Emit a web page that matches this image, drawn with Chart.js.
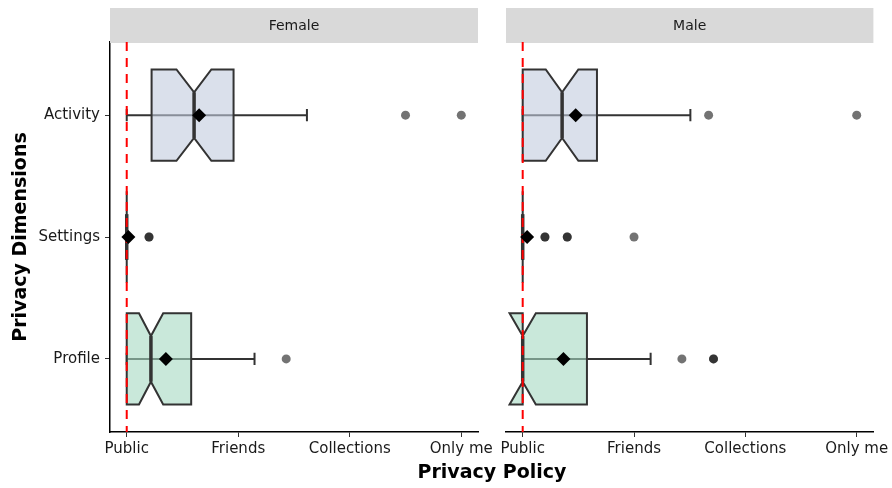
<!DOCTYPE html>
<html>
<head>
<meta charset="utf-8">
<script src="https://cdn.jsdelivr.net/npm/chart.js@4.4.1/dist/chart.umd.min.js"></script>
<style>
  body { margin: 0; background: #fff; font-family: "DejaVu Sans", sans-serif; }
  #wrap { position: relative; width: 892px; height: 488px; overflow: hidden; }
  #wrap canvas { position: absolute; left: 0; top: 0; }
  #xTitle {
    position: absolute; left: 0; width: 984px; top: 460px;
    text-align: center; font-weight: bold; font-size: 19px; color: #000;
  }
</style>
</head>
<body>
<div id="wrap">
  <canvas id="femaleChart" width="892" height="488"></canvas>
  <canvas id="maleChart" width="892" height="488"></canvas>
  <div id="xTitle">Privacy Policy</div>
</div>
<script>
// Categories (bottom to top) and policy levels (1..4)
const dimensions = ['Profile', 'Settings', 'Activity'];
const policyLabels = ['Public', 'Friends', 'Collections', 'Only me'];
const panelNames = ['Female', 'Male'];

// Box stats per dimension, in policy units
const femaleWhiskerLow = [1, 1, 1];
const femaleQ1 = [1, 1, 1.223];
const femaleNotchLow = [1.11, 1, 1.446];
const femaleMedian = [1.217, 1, 1.604];
const femaleNotchHigh = [1.327, 1, 1.759];
const femaleQ3 = [1.578, 1, 1.958];
const femaleWhiskerHigh = [2.146, 1, 2.616];
const femaleMean = [1.351, 1.015, 1.649];
const femaleOutliers = [[2.43], [1.2, 1.2], [3.5, 4.0]];

const maleWhiskerLow = [1, 1, 1];
const maleQ1 = [1, 1, 1];
const maleNotchLow = [0.882, 1, 1.207];
const maleMedian = [1, 1, 1.354];
const maleNotchHigh = [1.118, 1, 1.5];
const maleQ3 = [1.577, 1, 1.667];
const maleWhiskerHigh = [2.149, 1, 2.506];
const maleMean = [1.366, 1.04, 1.476];
const maleOutliers = [[2.43, 2.714, 2.714], [1.2, 1.2, 1.4, 1.4, 2.0], [2.67, 4.0]];

const boxFills = ['rgba(165,217,193,0.6)', 'rgba(240,200,170,0.6)', 'rgba(193,203,221,0.6)'];

const BOX_HALF = 0.375;   // half box thickness (category units)
const NOTCH_HALF = 0.1875;
const CAP_HALF = 0.05;

function buildStats(wl, q1, nl, med, nh, q3, wh) {
  return dimensions.map((d, i) => ({
    pos: i + 1, wl: wl[i], q1: q1[i], nl: nl[i], med: med[i], nh: nh[i], q3: q3[i], wh: wh[i], fill: boxFills[i]
  }));
}

const femaleStats = buildStats(femaleWhiskerLow, femaleQ1, femaleNotchLow, femaleMedian, femaleNotchHigh, femaleQ3, femaleWhiskerHigh);
const maleStats = buildStats(maleWhiskerLow, maleQ1, maleNotchLow, maleMedian, maleNotchHigh, maleQ3, maleWhiskerHigh);

// Draws strip, notched boxes and the reference line before the points
const boxPlugin = {
  id: 'boxes',
  beforeDatasetsDraw(chart, args, opts) {
    const { ctx, chartArea } = chart;
    const x = chart.scales.x, y = chart.scales.y;
    const px = v => x.getPixelForValue(v);
    const py = v => y.getPixelForValue(v);

    // facet strip
    ctx.save();
    ctx.fillStyle = '#d9d9d9';
    ctx.fillRect(chartArea.left, 8, chartArea.right - chartArea.left, 35);
    ctx.fillStyle = '#1a1a1a';
    ctx.font = '14px "DejaVu Sans"';
    ctx.textAlign = 'center';
    ctx.textBaseline = 'middle';
    ctx.fillText(opts.title, (chartArea.left + chartArea.right) / 2, 26);
    ctx.restore();

    opts.stats.forEach(s => {
      const cy = py(s.pos);
      const top = py(s.pos + BOX_HALF), bot = py(s.pos - BOX_HALF);
      const nTop = py(s.pos + NOTCH_HALF), nBot = py(s.pos - NOTCH_HALF);
      ctx.save();
      ctx.strokeStyle = '#333';
      ctx.lineWidth = 2;
      // whisker line and caps
      ctx.beginPath();
      ctx.moveTo(px(s.wl), cy);
      ctx.lineTo(px(s.wh), cy);
      [s.wl, s.wh].forEach(v => {
        ctx.moveTo(px(v), py(s.pos + CAP_HALF));
        ctx.lineTo(px(v), py(s.pos - CAP_HALF));
      });
      ctx.stroke();
      // notched box
      ctx.beginPath();
      ctx.moveTo(px(s.q1), top);
      ctx.lineTo(px(s.nl), top);
      ctx.lineTo(px(s.med), nTop);
      ctx.lineTo(px(s.nh), top);
      ctx.lineTo(px(s.q3), top);
      ctx.lineTo(px(s.q3), bot);
      ctx.lineTo(px(s.nh), bot);
      ctx.lineTo(px(s.med), nBot);
      ctx.lineTo(px(s.nl), bot);
      ctx.lineTo(px(s.q1), bot);
      ctx.closePath();
      ctx.fillStyle = s.fill;
      ctx.fill();
      ctx.lineJoin = 'miter';
      ctx.stroke();
      // median
      ctx.beginPath();
      ctx.lineWidth = 3.5;
      ctx.moveTo(px(s.med), nTop);
      ctx.lineTo(px(s.med), nBot);
      ctx.stroke();
      ctx.restore();
    });

    // dashed line at Public
    ctx.save();
    ctx.strokeStyle = '#ff0000';
    ctx.lineWidth = 2;
    ctx.setLineDash([9, 7]);
    ctx.beginPath();
    ctx.moveTo(px(1), chartArea.top);
    ctx.lineTo(px(1), chartArea.bottom);
    ctx.stroke();
    ctx.restore();
  }
};

function pointsFrom(values) {
  return values.map((v, i) => ({ x: v, y: i + 1 }));
}

function outlierPoints(groups) {
  const pts = [];
  groups.forEach((g, i) => g.forEach(v => pts.push({ x: v, y: i + 1 })));
  return pts;
}

function makePanel(canvasId, title, stats, means, outliers, padLeft, padRight, showY) {
  return new Chart(document.getElementById(canvasId), {
    type: 'scatter',
    data: {
      datasets: [
        {
          label: 'Outliers',
          data: outlierPoints(outliers),
          pointRadius: 4.5,
          backgroundColor: 'rgba(0,0,0,0.55)',
          borderWidth: 0
        },
        {
          label: 'Mean',
          data: pointsFrom(means),
          pointStyle: 'rectRot',
          pointRadius: 7,
          backgroundColor: '#000',
          borderWidth: 0
        }
      ]
    },
    options: {
      responsive: false,
      animation: false,
      events: [],
      layout: { padding: { top: 42, left: padLeft, right: padRight, bottom: 0 } },
      plugins: {
        legend: { display: false },
        tooltip: { enabled: false },
        boxes: { title: title, stats: stats }
      },
      scales: {
        x: {
          type: 'linear',
          min: 0.85,
          max: 4.15,
          afterBuildTicks: s => { s.ticks = policyLabels.map((l, i) => ({ value: i + 1 })); },
          afterFit: s => { s.height = 56; },
          ticks: {
            callback: v => policyLabels[v - 1],
            color: '#1a1a1a',
            font: { family: 'DejaVu Sans', size: 15 },
            padding: 3,
            maxRotation: 0,
            autoSkip: false
          },
          grid: { drawOnChartArea: false, tickLength: 5, tickColor: '#333' },
          border: { color: '#000', width: 1.5 }
        },
        y: {
          type: 'linear',
          display: showY,
          min: 0.4,
          max: 3.6,
          afterBuildTicks: s => { s.ticks = dimensions.map((d, i) => ({ value: i + 1 })); },
          afterFit: s => { s.width = showY ? 110 : 0; },
          ticks: {
            callback: v => dimensions[v - 1],
            color: '#1a1a1a',
            font: { family: 'DejaVu Sans', size: 15 },
            padding: 5
          },
          grid: { drawOnChartArea: false, tickLength: 5, tickColor: '#333' },
          border: { color: '#000', width: 1.5 },
          title: {
            display: true,
            text: 'Privacy Dimensions',
            color: '#000',
            font: { family: 'DejaVu Sans', size: 19, weight: 'bold' },
            padding: { top: 10, bottom: 0 }
          }
        }
      }
    },
    plugins: [boxPlugin]
  });
}

makePanel('femaleChart', panelNames[0], femaleStats, femaleMean, femaleOutliers, 0, 892 - 478, true);
makePanel('maleChart', panelNames[1], maleStats, maleMean, maleOutliers, 506, 892 - 874, false);
</script>
</body>
</html>
